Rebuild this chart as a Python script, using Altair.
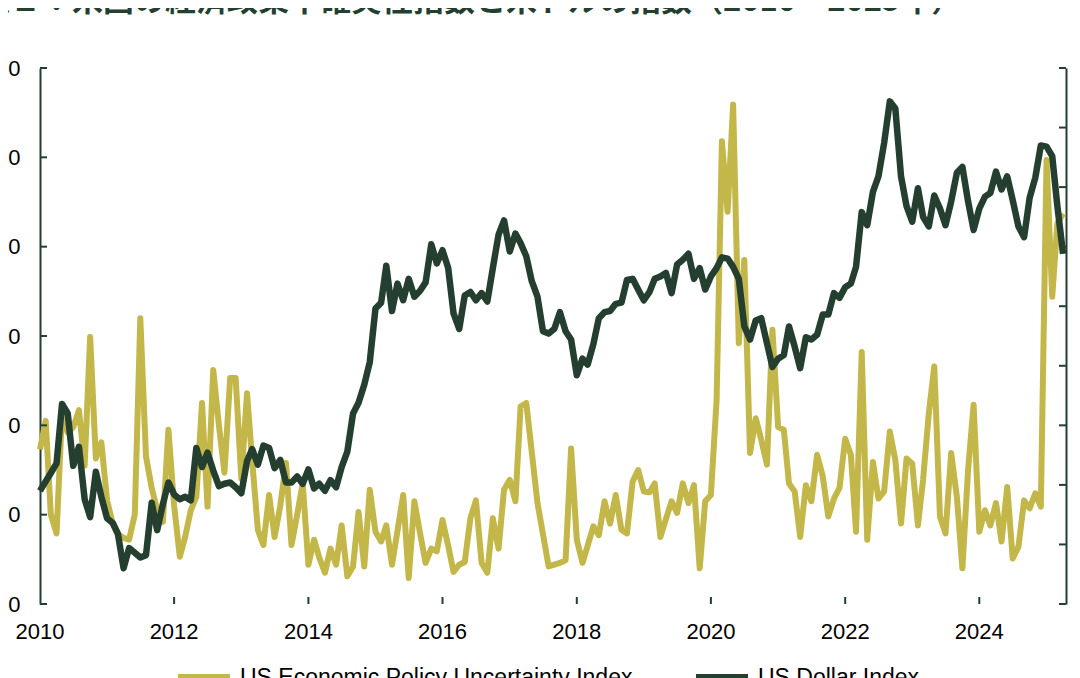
import altair as alt
import pandas as pd

TITLE = "図表１：米国の経済政策不確実性指数と米ドルの指数（2010－2025年）"
SERIES = ["US Economic Policy Uncertainty Index", "US Dollar Index"]
COLORS = ["#C4B74A", "#243F2F"]
START = "2010-01-01"

EPU = [
    173, 205, 100, 79, 214, 192, 198, 217, 155, 299, 163, 181,
    116, 90, 78, 74, 72, 100, 320, 165, 130, 105, 92, 195,
    110, 53, 75, 105, 120, 225, 109, 262, 200, 147, 253, 253,
    140, 236, 160, 83, 66, 122, 75, 110, 158, 66, 100, 135,
    44, 72, 52, 35, 62, 44, 88, 31, 42, 103, 42, 128,
    81, 70, 88, 44, 82, 122, 29, 115, 79, 46, 62, 59,
    94, 65, 36, 44, 47, 96, 116, 46, 35, 96, 62, 128,
    139, 115, 221, 225, 170, 113, 78, 42, 44, 46, 49, 174,
    72, 46, 65, 87, 77, 115, 90, 122, 83, 79, 137, 150,
    126, 125, 135, 75, 95, 115, 102, 135, 113, 133, 40, 115,
    122, 228, 518, 439, 559, 292, 385, 169, 208, 184, 156, 307,
    198, 195, 135, 126, 75, 133, 115, 167, 143, 98, 118, 130,
    185, 167, 81, 282, 72, 159, 118, 126, 193, 161, 90, 163,
    157, 88, 139, 213, 266, 98, 79, 169, 120, 40, 150, 223,
    81, 105, 88, 113, 70, 131, 51, 64, 116, 107, 124, 109,
    497, 344, 426, 437,
]

USD = [
    79.5, 80.3, 81.0, 81.8, 86.8, 86.0, 81.6, 83.2, 78.8, 77.3, 81.1, 79.0,
    77.2, 76.8, 75.9, 73.0, 74.7, 74.3, 73.9, 74.1, 78.5, 76.2, 78.4, 80.2,
    79.2, 78.8, 79.0, 78.7, 83.1, 81.5, 82.7, 81.2, 79.9, 80.1, 80.2, 79.8,
    79.3, 82.0, 83.0, 81.7, 83.3, 83.1, 81.4, 82.1, 80.2, 80.2, 80.7, 80.1,
    81.3, 79.7, 80.1, 79.5, 80.4, 79.8, 81.5, 82.8, 86.0, 86.9, 88.4, 90.3,
    94.8, 95.3, 98.4, 94.6, 96.9, 95.5, 97.3, 95.8, 96.3, 97.0, 100.2, 98.6,
    99.7, 98.2, 94.4, 93.1, 95.9, 96.2, 95.5, 96.1, 95.4, 98.2, 101.0, 102.2,
    99.6, 101.1, 100.3, 99.2, 97.1, 95.8, 92.9, 92.7, 93.1, 94.5, 92.9, 92.2,
    89.2, 90.6, 90.1, 91.8, 94.0, 94.5, 94.6, 95.2, 95.3, 97.2, 97.3, 96.4,
    95.5, 96.2, 97.3, 97.5, 97.8, 96.1, 98.5, 98.9, 99.4, 97.3, 98.2, 96.4,
    97.5, 98.2, 99.1, 99.0, 98.3, 97.3, 93.3, 92.2, 93.8, 94.0, 91.9, 89.9,
    90.6, 90.9, 93.3, 91.6, 89.8, 92.4, 92.2, 92.6, 94.3, 94.3, 96.1, 95.7,
    96.6, 96.9, 98.3, 102.9, 101.8, 104.6, 105.9, 108.7, 112.2, 111.6, 105.9, 103.4,
    102.1, 104.9, 102.5, 101.7, 104.3, 103.2, 101.8, 103.8, 106.2, 106.7, 103.8, 101.4,
    103.2, 104.2, 104.5, 106.3, 104.8, 105.9, 103.9, 101.7, 100.8, 104.1, 105.8, 108.5,
    108.4, 107.6, 103.4, 99.4,
]

X_LABEL_YEARS = [2010, 2012, 2014, 2016, 2018, 2020, 2022, 2024]
X_TICK_YEARS = [2012, 2014, 2016, 2018, 2020, 2022, 2024]
LEFT_TICKS = [0, 100, 200, 300, 400, 500, 600]
RIGHT_TICKS = [70, 75, 80, 85, 90, 95, 100, 105, 110, 115]

months = pd.date_range(START, periods=len(EPU), freq="MS")
epu_df = pd.DataFrame({"date": months, "value": EPU, "series": SERIES[0]})
usd_df = pd.DataFrame({"date": months, "value": USD, "series": SERIES[1]})
xt_df = pd.DataFrame({"date": pd.to_datetime([f"{y}-01-01" for y in X_TICK_YEARS])})
xl_df = pd.DataFrame({"date": pd.to_datetime([f"{y}-01-01" for y in X_LABEL_YEARS]),
                      "label": [str(y) for y in X_LABEL_YEARS]})
lt_df = pd.DataFrame({"v": LEFT_TICKS})
rt_df = pd.DataFrame({"v": RIGHT_TICKS})
title_df = pd.DataFrame({"t": [TITLE]})

W, H = 1026, 536
DARK = "#243F2F"
FONT = "Liberation Sans"
TICK = 7

x_scale = alt.Scale(domain=[alt.DateTime(year=2010, month=1, date=1),
                            alt.DateTime(year=2025, month=4, date=17)])
yl_scale = alt.Scale(domain=[0, 600], nice=False, zero=False)
yr_scale = alt.Scale(domain=[70, 115], nice=False, zero=False)
color_scale = alt.Scale(domain=SERIES, range=COLORS)

common_axis = dict(domain=True, ticks=False, grid=False, title=None, domainColor=DARK,
                   domainWidth=2, labelFontSize=22, labelFont=FONT, labelColor="#000000",
                   labelFlush=False)

x_axis = alt.Axis(labels=False, **common_axis)
left_axis = alt.Axis(orient="left", values=LEFT_TICKS, labelPadding=20, **common_axis)
right_axis = alt.Axis(orient="right", values=RIGHT_TICKS, labelPadding=22, **common_axis)

legend = alt.Legend(orient="none", legendX=134, legendY=580, direction="horizontal",
                    title=None, symbolType="stroke", symbolSize=2704, symbolStrokeWidth=8,
                    labelFontSize=23, labelFont=FONT, labelColor="#000000", labelOffset=6,
                    columnPadding=47, padding=0, labelLimit=1000)

color_enc = alt.Color("series:N", scale=color_scale, legend=legend)

epu_line = alt.Chart(epu_df).mark_line(strokeWidth=6, strokeJoin="round").encode(
    x=alt.X("date:T", scale=x_scale, axis=x_axis),
    y=alt.Y("value:Q", scale=yl_scale, axis=left_axis),
    color=color_enc,
)
left_ticks = alt.Chart(lt_df).mark_rule(color=DARK, strokeWidth=2).encode(
    y=alt.Y("v:Q", scale=yl_scale, axis=None),
    x=alt.value(0), x2=alt.value(TICK),
)
x_ticks = alt.Chart(xt_df).mark_rule(color=DARK, strokeWidth=2).encode(
    x=alt.X("date:T", scale=x_scale, axis=None),
    y=alt.value(H), y2=alt.value(H - TICK),
)
x_labels = alt.Chart(xl_df).mark_text(
    font=FONT, fontSize=22, color="#000000", align="center", baseline="middle",
).encode(
    x=alt.X("date:T", scale=x_scale, axis=None),
    y=alt.value(H + 28),
    text="label:N",
)
usd_line = alt.Chart(usd_df).mark_line(strokeWidth=6.5, strokeJoin="round").encode(
    x=alt.X("date:T", scale=x_scale, axis=None),
    y=alt.Y("value:Q", scale=yr_scale, axis=right_axis),
    color=color_enc,
)
right_ticks = alt.Chart(rt_df).mark_rule(color=DARK, strokeWidth=2).encode(
    y=alt.Y("v:Q", scale=yr_scale, axis=None),
    x=alt.value(W), x2=alt.value(W - TICK),
)
title_text = alt.Chart(title_df).mark_text(
    font="Noto Sans CJK JP", fontSize=31, fontWeight="bold", color=DARK,
    align="left", baseline="alphabetic",
).encode(text="t:N", x=alt.value(-92), y=alt.value(-57))

chart = alt.layer(
    epu_line, left_ticks, x_ticks, x_labels, usd_line, right_ticks, title_text
).resolve_scale(y="independent").properties(
    width=W, height=H,
    autosize=alt.AutoSizeParams(type="none"),
    padding={"left": 32, "top": 60, "right": 6, "bottom": 80},
    background="white",
).configure_view(strokeWidth=0)

chart.save("out.html", embed_options={"renderer": "svg", "actions": False})
